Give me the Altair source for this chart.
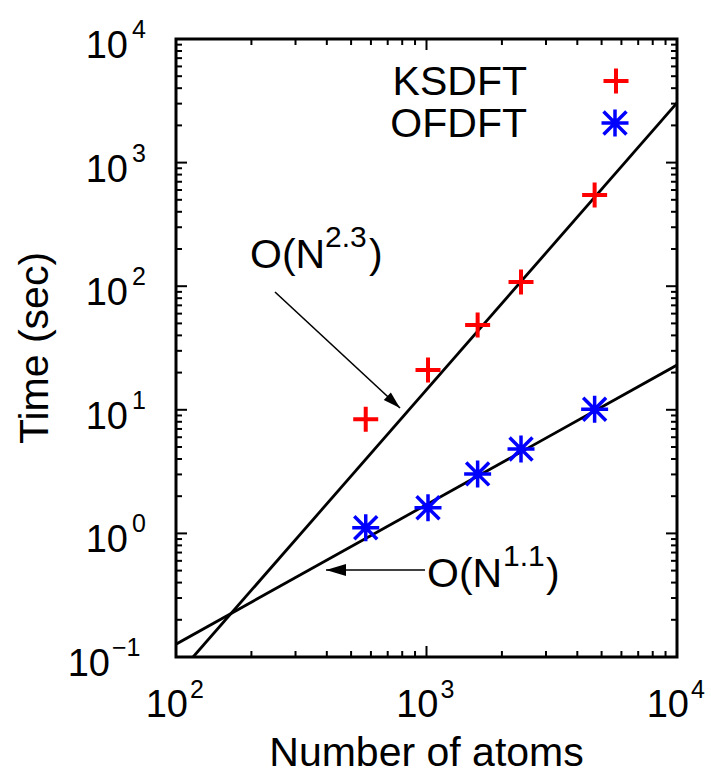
import altair as alt
import pandas as pd

# ---------------- data ----------------
atoms = [572, 1014, 1600, 2384, 4690]
ksdft_time = [8.4, 21.0, 48.5, 108.0, 547.0]
ofdft_time = [1.11, 1.61, 3.03, 4.82, 10.1]

fit23_atoms = [117, 10000]
fit23_time = [0.1, 3040]
fit11_atoms = [100, 10000]
fit11_time = [0.127, 23.0]

x_major = [100, 1000, 10000]
x_exp = ["2", "3", "4"]
y_major = [0.1, 1, 10, 100, 1000, 10000]
y_exp = ["\u22121", "0", "1", "2", "3", "4"]
x_minor = [m * 10 ** k for k in (2, 3) for m in range(2, 10)]
y_minor = [m * 10.0 ** k for k in range(-1, 4) for m in range(2, 10)]

legend_labels = ["KSDFT", "OFDFT"]
ann1 = ["O(N", "2.3", ")"]
ann2 = ["O(N", "1.1", ")"]

# ---------------- layout ----------------
W, H = 501, 618
FONT = "Liberation Sans"
RED = "#ff0000"
BLUE = "#0000ff"
PLUS = "M-1,0L1,0M0,-1L0,1"
STAR = "M-1,0L1,0M0,-1L0,1M-0.85,-0.85L0.85,0.85M-0.85,0.85L0.85,-0.85"
HEAD = "M0,0L-2,-0.6L-2,0.6Z"

xs = alt.Scale(type="log", domain=[100, 10000], nice=False)
ys = alt.Scale(type="log", domain=[0.1, 10000], nice=False)


def X(f):
    return alt.X(f, type="quantitative", scale=xs, axis=None)


def Y(f):
    return alt.Y(f, type="quantitative", scale=ys, axis=None)


def txt(s, size, align, x, y, color="black", angle=None):
    kw = dict(font=FONT, fontSize=size, align=align, baseline="alphabetic", color=color)
    if angle is not None:
        kw["angle"] = angle
    return alt.Chart(pd.DataFrame({"t": [s]})).mark_text(**kw).encode(
        x=alt.value(x), y=alt.value(y), text="t:N")


df_ks = pd.DataFrame({"atoms": atoms, "time": ksdft_time})
df_of = pd.DataFrame({"atoms": atoms, "time": ofdft_time})
df_f23 = pd.DataFrame({"atoms": fit23_atoms, "time": fit23_time})
df_f11 = pd.DataFrame({"atoms": fit11_atoms, "time": fit11_time})

layers = []

# fit lines
layers.append(alt.Chart(df_f23).mark_line(color="black", strokeWidth=2.8, clip=True).encode(x=X("atoms"), y=Y("time")))
layers.append(alt.Chart(df_f11).mark_line(color="black", strokeWidth=2.8, clip=True).encode(x=X("atoms"), y=Y("time")))

# data points
layers.append(alt.Chart(df_ks).mark_point(shape=PLUS, size=625, filled=False, color=RED, strokeWidth=4, opacity=1).encode(x=X("atoms"), y=Y("time")))
layers.append(alt.Chart(df_of).mark_point(shape=STAR, size=729, filled=False, color=BLUE, strokeWidth=3.5, opacity=1).encode(x=X("atoms"), y=Y("time")))

# ticks (inward, all four sides)
dxM = pd.DataFrame({"v": x_major, "base": ["10"] * len(x_major), "exp": x_exp})
dxm = pd.DataFrame({"v": x_minor})
dyM = pd.DataFrame({"v": y_major, "base": ["10"] * len(y_major), "exp": y_exp})
dym = pd.DataFrame({"v": y_minor})

for d, L in ((dxM, 11), (dxm, 6)):
    layers.append(alt.Chart(d).mark_rule(color="black", strokeWidth=2).encode(x=X("v"), y=alt.value(H), y2=alt.value(H - L)))
    layers.append(alt.Chart(d).mark_rule(color="black", strokeWidth=2).encode(x=X("v"), y=alt.value(0), y2=alt.value(L)))
for d, L in ((dyM, 11), (dym, 6)):
    layers.append(alt.Chart(d).mark_rule(color="black", strokeWidth=2).encode(y=Y("v"), x=alt.value(0), x2=alt.value(L)))
    layers.append(alt.Chart(d).mark_rule(color="black", strokeWidth=2).encode(y=Y("v"), x=alt.value(W), x2=alt.value(W - L)))

# tick labels x
layers.append(alt.Chart(dxM).mark_text(font=FONT, fontSize=38, align="right", baseline="alphabetic", dx=12).encode(
    x=X("v"), y=alt.value(H + 60), text="base:N"))
layers.append(alt.Chart(dxM).mark_text(font=FONT, fontSize=25, align="left", baseline="alphabetic", dx=14).encode(
    x=X("v"), y=alt.value(H + 41), text="exp:N"))

# tick labels y
pos = alt.Chart(dyM).transform_filter("datum.v >= 1")
neg = alt.Chart(dyM).transform_filter("datum.v < 1")
layers.append(pos.mark_text(font=FONT, fontSize=38, align="right", baseline="alphabetic", dy=19).encode(
    x=alt.value(-48), y=Y("v"), text="base:N"))
layers.append(pos.mark_text(font=FONT, fontSize=25, align="left", baseline="alphabetic", dy=-1).encode(
    x=alt.value(-44), y=Y("v"), text="exp:N"))
layers.append(neg.mark_text(font=FONT, fontSize=38, align="right", baseline="alphabetic", dy=19).encode(
    x=alt.value(-66), y=Y("v"), text="base:N"))
layers.append(neg.mark_text(font=FONT, fontSize=25, align="left", baseline="alphabetic", dy=-1).encode(
    x=alt.value(-64), y=Y("v"), text="exp:N"))

# axis titles
layers.append(txt("Number of atoms", 41, "center", W / 2, 727))
layers.append(txt("Time (sec)", 41, "center", -128, H / 2, angle=270))

# legend
layers.append(txt(legend_labels[0], 41, "right", 351, 56))
layers.append(txt(legend_labels[1], 41, "right", 351, 98))
one = pd.DataFrame({"k": [0]})
layers.append(alt.Chart(one).mark_point(shape=PLUS, size=625, filled=False, color=RED, strokeWidth=4, opacity=1).encode(
    x=alt.value(440), y=alt.value(42)))
layers.append(alt.Chart(one).mark_point(shape=STAR, size=729, filled=False, color=BLUE, strokeWidth=3.5, opacity=1).encode(
    x=alt.value(439), y=alt.value(84)))

# annotations
layers.append(txt(ann1[0], 41, "left", 74, 229))
layers.append(txt(ann1[1], 30, "left", 149, 208))
layers.append(txt(ann1[2], 41, "left", 193, 229))
layers.append(txt(ann2[0], 41, "left", 251, 548))
layers.append(txt(ann2[1], 30, "left", 327, 527))
layers.append(txt(ann2[2], 41, "left", 370, 548))

# arrows
layers.append(alt.Chart(one).mark_rule(color="black", strokeWidth=1.6).encode(
    x=alt.value(99), y=alt.value(253), x2=alt.value(224), y2=alt.value(369)))
layers.append(alt.Chart(one).mark_point(shape=HEAD, size=300, filled=True, color="black", strokeWidth=0, opacity=1, angle=42.9).encode(
    x=alt.value(224), y=alt.value(369)))
layers.append(alt.Chart(one).mark_rule(color="black", strokeWidth=1.6).encode(
    x=alt.value(249), y=alt.value(531), x2=alt.value(150), y2=alt.value(531)))
layers.append(alt.Chart(one).mark_point(shape=HEAD, size=400, filled=True, color="black", strokeWidth=0, opacity=1, angle=180).encode(
    x=alt.value(150), y=alt.value(531)))

chart = alt.layer(*layers).properties(
    width=W, height=H,
    autosize=alt.AutoSizeParams(type="none"),
    padding={"left": 176, "top": 39, "right": 34, "bottom": 120},
    background="white",
).configure_view(stroke="black", strokeWidth=3)

chart.save("out.html", embed_options={"renderer": "svg", "actions": False})
